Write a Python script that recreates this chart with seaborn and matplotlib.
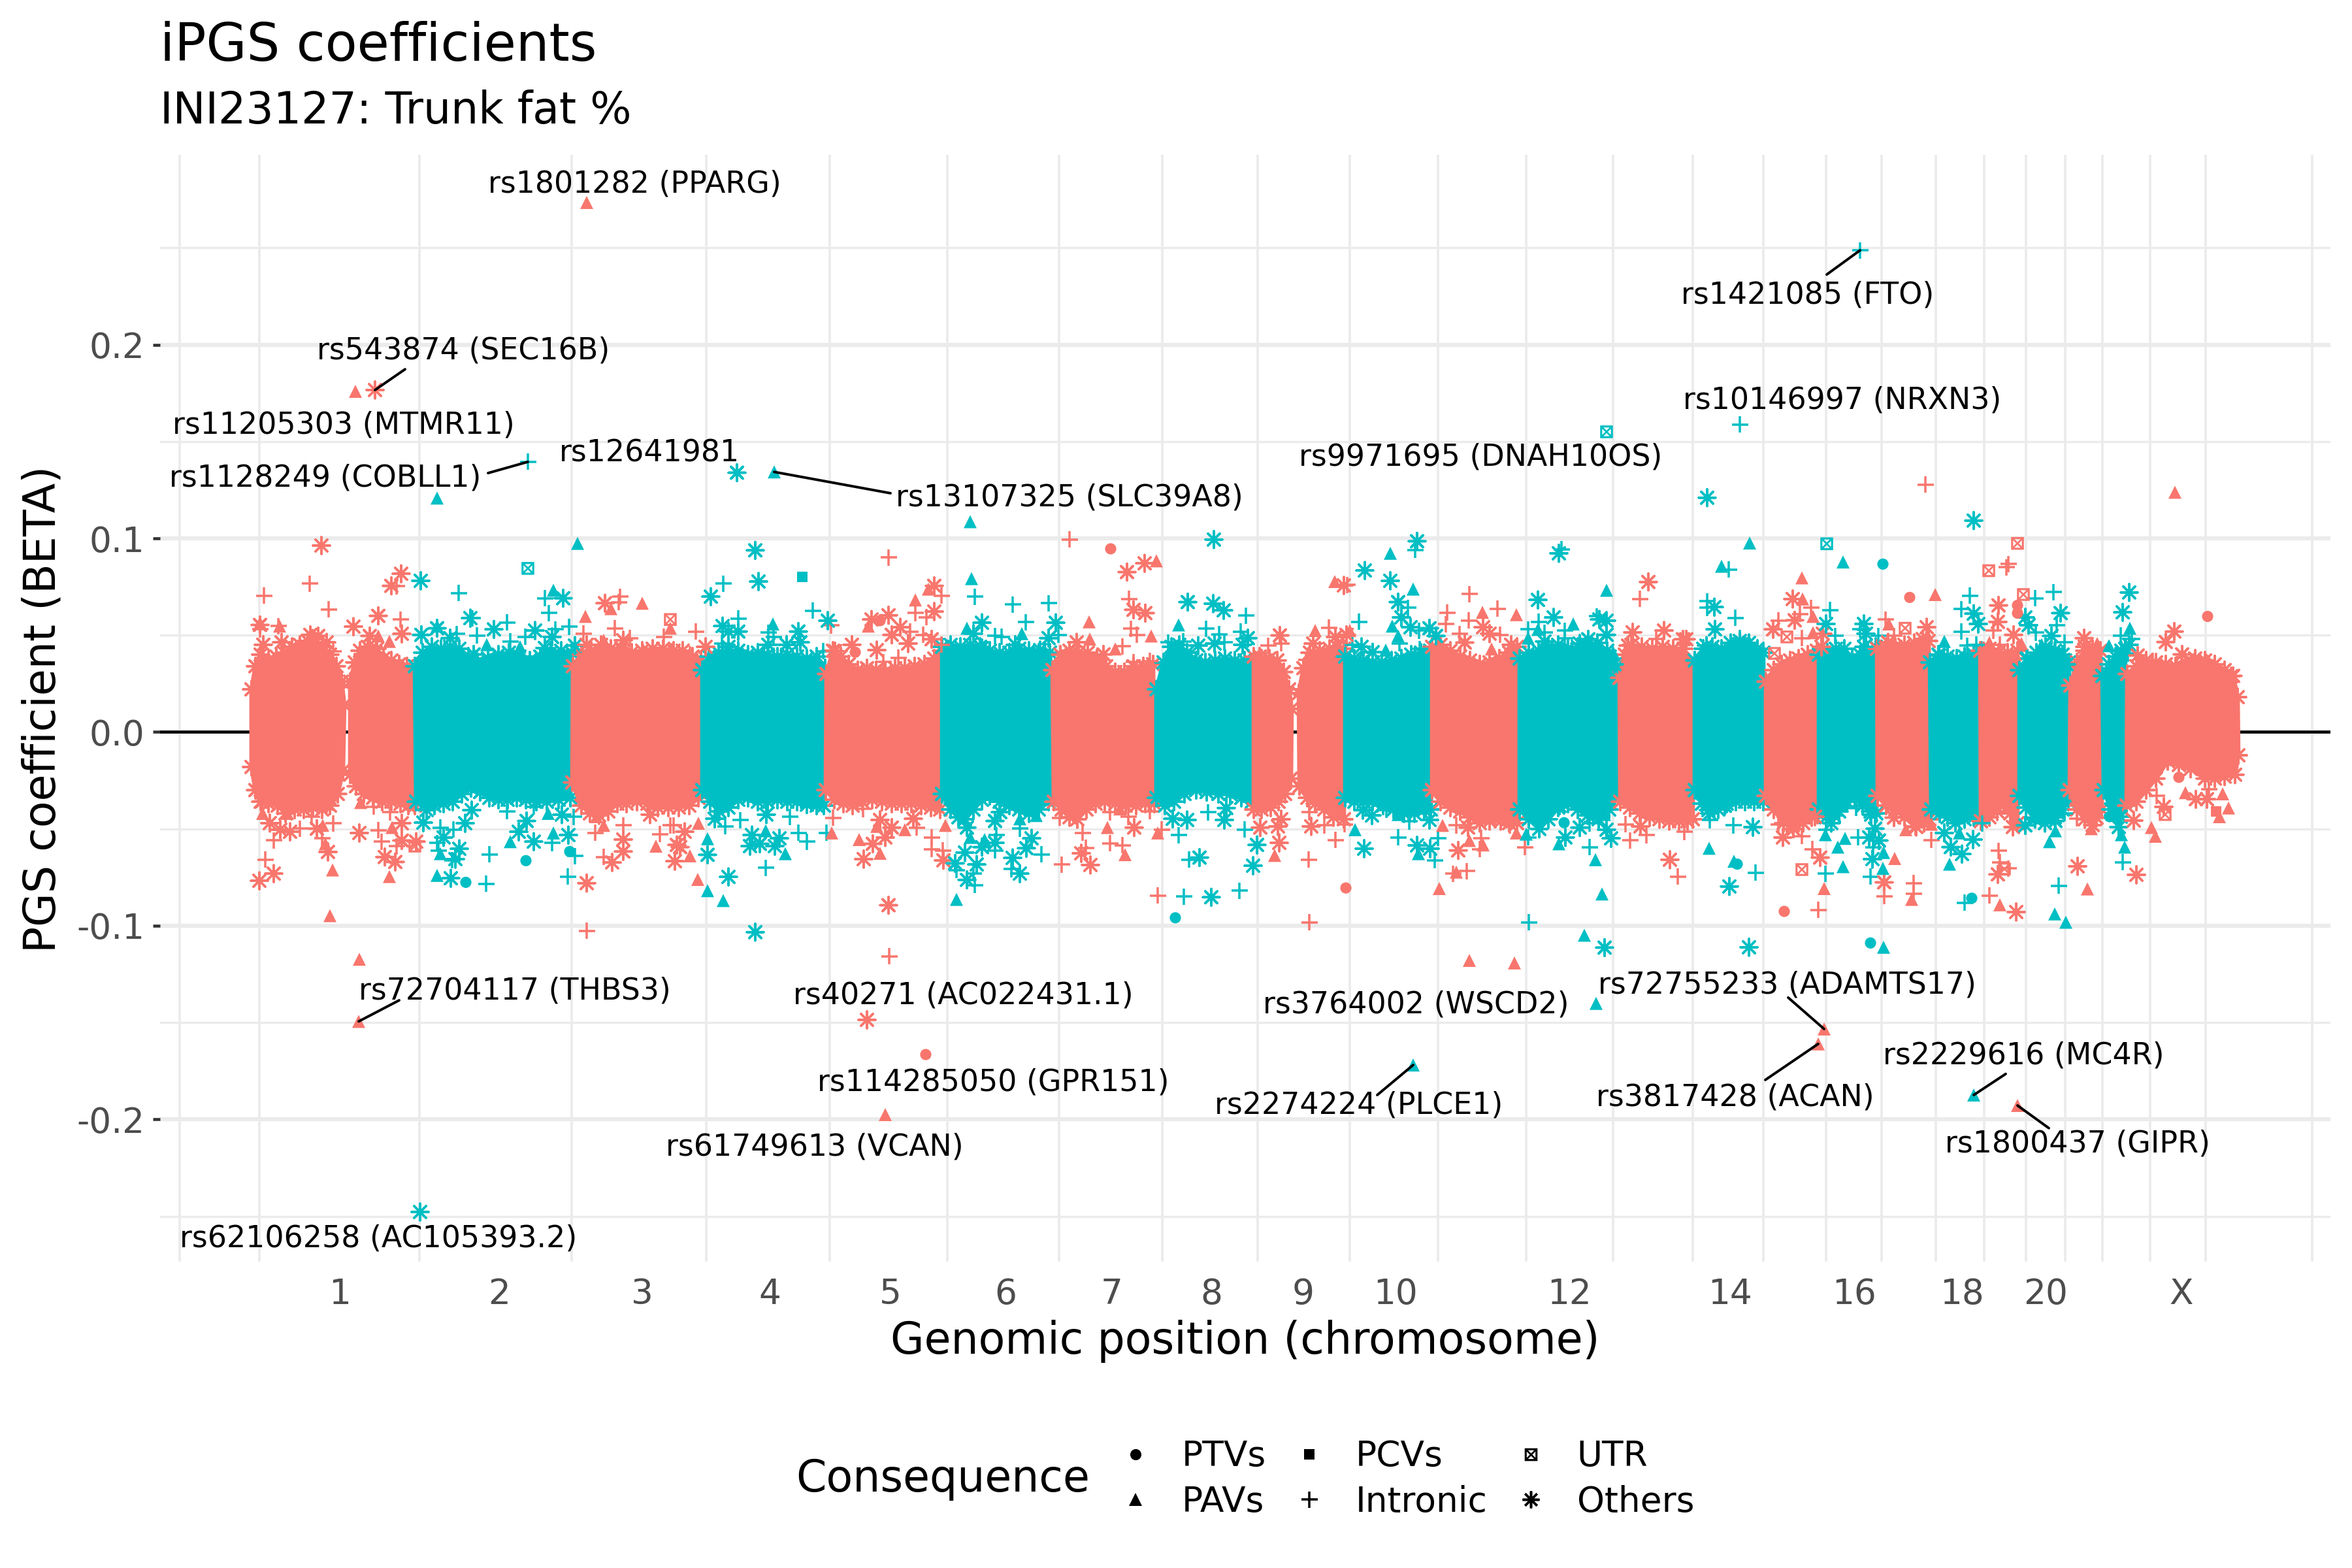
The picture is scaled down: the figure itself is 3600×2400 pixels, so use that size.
import numpy as np
import pandas as pd
import matplotlib
matplotlib.use('Agg')
import matplotlib.pyplot as plt
from matplotlib.lines import Line2D
from matplotlib.path import Path
import seaborn as sns

# all positions are cumulative genome position in Mb
tick_pos = [135, 379, 598, 793, 978, 1154, 1317, 1469, 1610, 1751, 2017, 2263, 2453, 2618, 2746, 2954]
tick_labels = ['1', '2', '3', '4', '5', '6', '7', '8', '9', '10', '12', '14', '16', '18', '20', 'X']
grid_pos = [-110, 12, 257, 490, 696, 885, 1065, 1236, 1394, 1540, 1681, 1816, 1951, 2084, 2206, 2314,
            2410, 2495, 2578, 2652, 2716, 2776, 2833, 2906, 2991, 3154]
chrom_end = [256, 500, 697, 885, 1065, 1236, 1396, 1541, 1683, 1817, 1950, 2095, 2210, 2316, 2408,
             2498.5, 2579, 2653, 2713.5, 2785, 2835, 2880, 3100]

# the ~100k variants near zero are a solid mass in the plot, so they are kept as the
# outline of that mass: one piece per chromosome arm, chromosome number first
band_chrom = [1, 1, 2, 3, 4, 5, 6, 7, 8, 9, 9, 10, 11, 12, 13, 14, 15, 16, 17, 18, 19, 20, 21, 22, 23]
band_top = [
    [(0, .022), (6, .034), (14, .040), (26, .037), (38, .039), (50, .041), (62, .044), (74, .045), (86, .047), (98, .046), (110, .044), (120, .040), (130, .034), (138, .026), (142, .014)],
    [(151, .026), (158, .036), (166, .042), (178, .044), (190, .041), (202, .038), (214, .037), (226, .035), (238, .034), (250, .034)],
    [(250, .034), (262, .041), (276, .044), (290, .043), (304, .044), (318, .043), (332, .039), (346, .036), (362, .038), (378, .040), (394, .041), (410, .039), (426, .037), (442, .039), (458, .041), (474, .042), (490, .041)],
    [(492, .034), (505, .040), (520, .042), (535, .045), (550, .043), (566, .043), (582, .041), (598, .042), (614, .043), (630, .043), (646, .042), (660, .042), (675, .039), (688, .037)],
    [(690, .032), (700, .039), (715, .041), (730, .042), (745, .042), (760, .040), (775, .041), (790, .040), (805, .039), (820, .040), (835, .039), (850, .038), (865, .039), (878, .033)],
    [(880, .030), (890, .042), (902, .039), (914, .035), (928, .032), (942, .033), (956, .032), (970, .031), (985, .033), (1000, .033), (1015, .034), (1030, .035), (1045, .038), (1056, .042)],
    [(1057, .044), (1070, .045), (1085, .044), (1100, .045), (1115, .044), (1130, .042), (1145, .041), (1160, .041), (1175, .043), (1190, .042), (1205, .041), (1222, .041)],
    [(1226, .032), (1238, .040), (1252, .042), (1266, .041), (1280, .041), (1294, .038), (1308, .034), (1322, .031), (1336, .031), (1350, .034), (1365, .034), (1380, .035)],
    [(1385, .022), (1396, .036), (1408, .044), (1420, .045), (1432, .041), (1446, .037), (1460, .036), (1475, .037), (1490, .038), (1505, .037), (1520, .037), (1532, .036)],
    [(1534, .039), (1546, .038), (1558, .038), (1570, .037), (1580, .031), (1588, .022), (1592, .012)],
    [(1603, .020), (1610, .033), (1620, .041), (1635, .042), (1650, .043), (1662, .044), (1672, .043)],
    [(1674, .039), (1688, .038), (1702, .037), (1716, .036), (1730, .036), (1745, .037), (1760, .038), (1775, .040), (1790, .041), (1804, .042)],
    [(1807, .044), (1820, .045), (1835, .042), (1850, .039), (1865, .037), (1880, .035), (1895, .036), (1910, .038), (1925, .041), (1937, .044)],
    [(1941, .038), (1955, .041), (1970, .042), (1985, .044), (2000, .045), (2015, .043), (2030, .044), (2045, .045), (2060, .046), (2075, .042), (2090, .034)],
    [(2094, .028), (2102, .040), (2112, .045), (2128, .044), (2144, .043), (2160, .044), (2176, .043), (2192, .043), (2206, .034)],
    [(2209, .037), (2222, .043), (2236, .044), (2250, .043), (2264, .046), (2278, .047), (2292, .046), (2305, .043), (2314, .041)],
    [(2318, .026), (2330, .032), (2342, .035), (2355, .037), (2368, .038), (2382, .040), (2396, .042)],
    [(2399, .040), (2412, .041), (2425, .043), (2438, .043), (2450, .038), (2462, .040), (2474, .042), (2486, .044)],
    [(2488, .043), (2502, .044), (2516, .044), (2530, .045), (2545, .046), (2558, .048), (2567, .047)],
    [(2569, .036), (2582, .040), (2596, .039), (2610, .038), (2622, .039), (2636, .040), (2648, .042)],
    [(2646, .042), (2660, .043), (2674, .041), (2688, .041), (2703, .042)],
    [(2706, .032), (2718, .038), (2732, .041), (2746, .044), (2760, .042), (2772, .040), (2782, .036)],
    [(2784, .024), (2794, .036), (2806, .042), (2818, .043), (2830, .042)],
    [(2833, .029), (2843, .035), (2853, .039), (2862, .042), (2868, .043)],
    [(2871, .030), (2885, .034), (2900, .037), (2915, .036), (2930, .035), (2945, .034), (2960, .036), (2975, .038), (2990, .037), (3005, .035), (3020, .032), (3033, .029), (3040, .018)],
]
band_bottom = [
    [(0, -.018), (6, -.030), (14, -.036), (26, -.037), (40, -.038), (52, -.042), (66, -.040), (80, -.040), (94, -.039), (108, -.040), (120, -.038), (132, -.032), (140, -.020)],
    [(151, -.022), (160, -.028), (172, -.032), (186, -.034), (200, -.036), (214, -.036), (228, -.037), (240, -.038), (250, -.038)],
    [(252, -.036), (266, -.037), (280, -.038), (294, -.037), (308, -.036), (322, -.032), (336, -.029), (350, -.031), (364, -.034), (378, -.035), (392, -.035), (406, -.034), (420, -.035), (436, -.036), (452, -.036), (470, -.035), (488, -.034)],
    [(491, -.026), (505, -.038), (518, -.042), (532, -.043), (546, -.041), (560, -.037), (574, -.037), (590, -.036), (606, -.037), (622, -.039), (638, -.039), (654, -.039), (670, -.038), (684, -.034)],
    [(690, -.030), (702, -.036), (716, -.041), (730, -.039), (745, -.035), (760, -.034), (775, -.036), (790, -.036), (805, -.035), (820, -.036), (835, -.036), (850, -.036), (865, -.038), (876, -.038)],
    [(879, -.030), (892, -.035), (906, -.037), (920, -.038), (935, -.036), (950, -.035), (965, -.036), (980, -.037), (995, -.037), (1010, -.037), (1025, -.038), (1040, -.039), (1054, -.040)],
    [(1057, -.032), (1070, -.040), (1082, -.044), (1092, -.045), (1105, -.040), (1118, -.035), (1130, -.033), (1145, -.036), (1160, -.038), (1175, -.040), (1190, -.042), (1205, -.040), (1220, -.036), (1232, -.032)],
    [(1228, -.036), (1240, -.040), (1252, -.044), (1264, -.045), (1278, -.040), (1292, -.037), (1306, -.036), (1322, -.037), (1338, -.038), (1354, -.038), (1368, -.037), (1382, -.037)],
    [(1385, -.034), (1398, -.038), (1412, -.036), (1428, -.032), (1446, -.030), (1462, -.031), (1480, -.032), (1498, -.032), (1515, -.034), (1531, -.036)],
    [(1534, -.040), (1546, -.040), (1560, -.039), (1572, -.036), (1582, -.032), (1591, -.024)],
    [(1604, -.028), (1616, -.034), (1628, -.037), (1642, -.040), (1656, -.044), (1672, -.045)],
    [(1674, -.034), (1688, -.036), (1702, -.036), (1716, -.036), (1732, -.038), (1748, -.040), (1764, -.042), (1780, -.042), (1795, -.040), (1805, -.040)],
    [(1807, -.030), (1820, -.036), (1835, -.039), (1850, -.041), (1865, -.044), (1880, -.047), (1895, -.046), (1912, -.046), (1925, -.047), (1937, -.047)],
    [(1941, -.040), (1955, -.045), (1971, -.050), (1985, -.045), (2000, -.039), (2015, -.037), (2030, -.040), (2045, -.043), (2062, -.045), (2078, -.040), (2092, -.032)],
    [(2095, -.036), (2110, -.039), (2125, -.042), (2140, -.044), (2155, -.045), (2170, -.046), (2185, -.046), (2198, -.046), (2206, -.045)],
    [(2209, -.030), (2220, -.037), (2232, -.042), (2245, -.040), (2258, -.037), (2272, -.036), (2286, -.036), (2300, -.036), (2314, -.036)],
    [(2318, -.033), (2330, -.040), (2345, -.047), (2360, -.050), (2375, -.047), (2388, -.044), (2397, -.042)],
    [(2399, -.040), (2410, -.044), (2418, -.047), (2430, -.041), (2442, -.036), (2454, -.034), (2466, -.038), (2478, -.041), (2487, -.042)],
    [(2489, -.033), (2502, -.038), (2516, -.040), (2530, -.044), (2548, -.049), (2560, -.047), (2568, -.045)],
    [(2571, -.040), (2584, -.042), (2596, -.044), (2608, -.047), (2622, -.045), (2636, -.044), (2647, -.044)],
    [(2647, -.046), (2660, -.044), (2672, -.041), (2682, -.037), (2692, -.042), (2703, -.047)],
    [(2706, -.033), (2716, -.039), (2730, -.045), (2745, -.047), (2760, -.044), (2772, -.040), (2781, -.036)],
    [(2783, -.030), (2794, -.040), (2806, -.045), (2818, -.048), (2832, -.040)],
    [(2835, -.030), (2846, -.040), (2858, -.049), (2867, -.036)],
    [(2870, -.038), (2885, -.036), (2900, -.030), (2915, -.024), (2933, -.015), (2950, -.017), (2968, -.019), (2990, -.024), (3005, -.024), (3020, -.023), (3036, -.022), (3041, -.012)],
]

ptv = [(962, .0575), (924, .0412), (1315, .0946), (2497, .0867), (2538, .0695), (2994, .0597), (2703, .0654), (2703, .0614),
       (328, -.0776), (420, -.0664), (487, -.0617), (1414, -.0959), (1675, -.0805), (2009, -.0468), (2274, -.0682),
       (2346, -.0926), (2478, -.1089), (2439, -.0375), (2633, -.0858), (2844, -.0437), (2950, -.0234), (1032, -.1665)]
pcv = [(843, .0800), (3007, -.0409)]
utr = [(423, .0845), (641, .0581), (2074, .155), (2411, .0972), (2350, .0491), (2331, .0406), (2531, .0536), (2659, .0833),
       (2703, .0974), (2712, .0710), (250, -.0589), (2373, -.0710), (2683, -.0707), (2929, -.0426)]
pav = [
    # upper half
    (513, .2734), (159, .1759), (284, .1208), (499, .0974), (800, .1343), (1100, .1086), (2944, .1238), (13, .0564), (43, .0547),
    (194, .0496), (211, .0468), (284, .0547), (462, .0732), (360, .0451), (411, .044), (511, .0597), (550, .0637), (598, .0665),
    (641, .0536), (539, .0474), (600, .0423), (643, .0429), (798, .0558), (641, .0429), (1036, .0738), (1016, .0682), (944, .0547),
    (1102, .0792), (1095, .0536), (1179, .0508), (1385, .0884), (1282, .0569), (1377, .0496), (1283, .048), (1322, .0429),
    (1419, .0553), (1658, .0777), (1628, .0524), (1681, .0524), (1743, .0923), (1778, .0738), (1746, .0547), (1755, .0496),
    (1736, .0423), (1884, .0618), (1936, .0606), (1898, .0429), (2074, .0732), (2023, .0558), (1969, .053), (1954, .0485),
    (2084, .0412), (2063, .0434), (2250, .0856), (2293, .0976), (2293, .0462), (2373, .0796), (2374, .0687), (2390, .0597),
    (2390, .0513), (2436, .0878), (2577, .0710), (2506, .0558), (2565, .0502), (2591, .0468), (2660, .0462), (2673, .0395),
    (2700, .0401), (2709, .0457), (2740, .0451), (2825, .0457), (2843, .0446), (2875, .0536), (2852, .0367), (2993, .0373), (2944, .0271),
    # lower half
    (120, -.0948), (165, -.1173), (124, -.0712), (211, -.0746), (113, -.0577), (109, -.0482), (55, -.042), (17, -.042), (215, -.0493),
    (167, -.0364), (289, -.0628), (284, -.074), (396, -.0566), (462, -.0521), (454, -.042), (619, -.0589), (528, -.0437), (539, -.0482),
    (671, -.0639), (683, -.0761), (684, -.0471), (698, -.0819), (722, -.087), (817, -.0628), (698, -.0551), (787, -.051), (888, -.0521),
    (930, -.0555), (962, -.0626), (957, -.0487), (1000, -.0504), (1062, -.0482), (1079, -.0864), (1100, -.0544), (1122, -.0555),
    (1176, -.0448), (1201, -.0431), (1337, -.0633), (1310, -.0493), (1329, -.0397), (1387, -.0521), (1566, -.0637), (1689, -.0504),
    (1786, -.0628), (1755, -.0426), (1864, -.056), (1818, -.0808), (1864, -.1179), (1933, -.1192), (1844, -.0723), (1885, -.0583),
    (1823, -.0482), (1936, -.0521), (1951, -.0527), (2040, -.1049), (2067, -.0836), (2057, -.0659), (2001, -.0577), (2071, -.0426),
    (2231, -.060), (2269, -.0667), (2407, -.0808), (2409, -.053), (2436, -.0695), (2428, -.0594), (2439, -.0549), (2498, -.0622),
    (2497, -.0704), (2498, -.1111), (2515, -.0653), (2541, -.0864), (2532, -.0504), (2571, -.0476), (2599, -.0682), (2614, -.0521),
    (2600, -.0426), (2676, -.0892), (2760, -.0939), (2777, -.0982), (2752, -.0566), (2761, -.051), (2810, -.081), (2816, -.0499),
    (2862, -.053), (2867, -.0594), (2908, -.0493), (2914, -.0538), (2960, -.0313), (3026, -.0392), (3012, -.0437), (3017, -.0319),
    # labelled
    (164, -.1494), (970, -.1975), (2058, -.1401), (1778, -.1719), (2407, -.1533), (2398, -.161), (2636, -.1874), (2703, -.1928),
]
intronic = [
    # upper half
    (19, .0704), (89, .0766), (118, .0633), (222, .0753), (228, .0581), (13, .053), (41, .0547), (125, .0418), (423, .1395), (317, .0718),
    (449, .0691), (455, .0614), (391, .0566), (465, .053), (486, .0543), (345, .0499), (314, .0507), (396, .0468), (419, .0491),
    (338, .0588), (564, .0699), (562, .0671), (508, .0508), (556, .0536), (579, .0485), (631, .0491), (680, .0519), (671, .0401),
    (722, .0766), (859, .0626), (887, .055), (745, .0586), (791, .0513), (799, .0491), (720, .0457), (875, .0418), (788, .0362),
    (975, .0901), (1056, .0704), (1016, .0614), (1033, .0592), (1008, .0519), (1028, .0502), (967, .0362), (990, .0384), (1056, .0451),
    (1107, .0699), (1165, .0659), (1220, .0665), (1185, .0567), (1138, .0496), (1148, .0491), (1235, .0502), (1252, .0994),
    (1343, .0687), (1346, .0533), (1355, .0502), (1333, .0442), (1350, .0362), (1375, .0367), (1522, .0601), (1461, .0533), (1514, .0519),
    (1481, .0505), (1403, .0462), (1426, .0468), (1489, .0463), (1576, .0457), (1556, .0446), (1677, .076), (1649, .0539), (1614, .0373),
    (1781, .094), (1770, .0642), (1695, .0569), (1787, .0524), (1685, .0451), (1757, .0457), (1788, .0429), (1864, .0713), (1907, .0637),
    (1830, .0617), (1863, .0575), (1828, .0558), (1911, .0502), (1849, .0507), (1818, .0412), (2005, .0944), (2059, .0597), (1970, .0569),
    (1979, .0513), (1954, .053), (2010, .0524), (2010, .0485), (2125, .0687), (2150, .0479), (2176, .0418), (2562, .1277), (2278, .1587),
    (2261, .0839), (2228, .0676), (2228, .0642), (2271, .059), (2278, .0485), (2387, .0642), (2370, .0609), (2337, .0575), (2373, .0485),
    (2462, .2487), (2416, .0629), (2424, .0496), (2462, .053), (2490, .0496), (2501, .0581), (2514, .0496), (2630, .0704), (2617, .0635),
    (2617, .0519), (2626, .0446), (2640, .0451), (2689, .0867), (2686, .085), (2666, .0524), (2676, .0451), (2730, .069), (2758, .0723),
    (2731, .0513), (2763, .0552), (2775, .0463), (2761, .0429), (2861, .0499), (2878, .0479), (2872, .0406), (2910, .0367), (2947, .035),
    # lower half
    (21, -.0659), (34, -.056), (74, -.0499), (92, -.0437), (125, -.0471), (108, -.0549), (194, -.0507), (199, -.0566), (222, -.0589),
    (187, -.0386), (212, -.0414), (289, -.0493), (284, -.0572), (286, -.0611), (307, -.0662), (359, -.0783), (364, -.0631), (460, -.0572),
    (495, -.0641), (484, -.0746), (309, -.0504), (432, -.0386), (391, -.0409), (493, -.0437), (513, -.1027), (539, -.0645), (625, -.0527),
    (526, -.0521), (569, -.0482), (641, -.0482), (646, -.0482), (787, -.0701), (837, -.0521), (850, -.0566), (880, -.0521), (824, -.0437),
    (748, -.0454), (725, -.0487), (890, -.0442), (976, -.1158), (1018, -.0493), (1041, -.0544), (1041, -.0605), (1058, -.0611), (936, -.0397),
    (1107, -.0791), (1079, -.0712), (1105, -.0729), (1138, -.0611), (1140, -.0532), (1163, -.0707), (1209, -.0631), (1176, -.0499),
    (1240, -.0684), (1277, -.0598), (1272, -.0521), (1237, -.0442), (1314, -.0574), (1333, -.0585), (1314, -.0414), (1342, -.0437),
    (1375, -.0409), (1393, -.0504), (1387, -.0844), (1427, -.085), (1512, -.0819), (1435, -.0659), (1520, -.0504), (1419, -.0532), (1464, -.0414),
    (1618, -.0659), (1619, -.0982), (1659, -.0557), (1642, -.0482), (1673, -.0476), (1619, -.0414), (1811, -.0662), (1755, -.0544),
    (1772, -.0462), (1737, -.0403), (1816, -.0547), (1839, -.0731), (1860, -.0718), (1880, -.0605), (1882, -.0547), (1844, -.0482), (1903, -.0442),
    (1926, -.0482), (1955, -.0982), (1949, -.0594), (1954, -.0544), (2048, -.0594), (2048, -.0471), (2110, -.056), (2135, -.0532), (2103, -.0476),
    (2183, -.0746), (2176, -.0448), (2193, -.0515), (2302, -.0726), (2268, -.0482), (2232, -.0454), (2398, -.0918), (2389, -.0605), (2373, -.0538),
    (2337, -.0476), (2409, -.0731), (2410, -.0504), (2459, -.0544), (2482, -.0594), (2478, -.0746), (2456, -.0392), (2499, -.0847), (2544, -.078),
    (2544, -.0836), (2571, -.0558), (2622, -.0881), (2649, -.0471), (2660, -.0845), (2674, -.0613), (2676, -.0673), (2689, -.0704), (2766, -.0794),
    (2775, -.042), (2794, -.0446), (2794, -.0381), (2864, -.0673), (2916, -.033), (2996, -.0296),
]
others = [
    # upper half
    (107, .0963), (229, .0817), (214, .0755), (194, .06), (156, .0544), (230, .0507), (13, .0553), (18, .0451), (46, .0463), (90, .0502),
    (102, .0496), (115, .0463), (181, .0496), (192, .043), (189, .1766), (259, .0781), (477, .0691), (335, .0588), (371, .053), (434, .0524),
    (460, .0491), (260, .0502), (284, .0536), (304, .0485), (340, .0401), (449, .0434), (495, .0446), (541, .0665), (513, .0451), (569, .0474),
    (743, .1339), (771, .0938), (776, .0777), (703, .0699), (882, .0575), (721, .0547), (745, .0519), (730, .0519), (837, .0519), (840, .0463),
    (791, .0451), (819, .0451), (730, .044), (695, .044), (1045, .0755), (1045, .0622), (975, .0603), (949, .0581), (993, .0541), (980, .0502),
    (1041, .0479), (919, .0451), (893, .0418), (1005, .0457), (957, .0423), (1231, .0564), (1118, .0564), (1105, .0508), (1220, .0485),
    (1169, .0451), (1118, .0434), (1207, .0423), (1340, .0826), (1367, .0871), (1350, .0631), (1368, .0614), (1263, .0463), (1304, .0401),
    (1473, .0994), (1433, .0671), (1472, .0663), (1488, .0628), (1525, .0485), (1449, .0446), (1474, .0457), (1517, .0451), (1438, .0373),
    (1574, .0499), (1543, .039), (1672, .0757), (1659, .0491), (1676, .0502), (1625, .0457), (1704, .0834), (1743, .0781), (1784, .0985),
    (1755, .0671), (1760, .0592), (1774, .0541), (1803, .0536), (1813, .0496), (1699, .044), (1716, .0412), (1885, .0541), (1895, .0508),
    (1857, .0462), (1928, .0451), (2001, .0923), (1969, .0682), (2063, .0581), (2074, .0575), (1993, .0592), (1979, .0468), (2033, .0457),
    (2046, .0479), (2074, .0502), (2086, .035), (2138, .0775), (2114, .0515), (2162, .0524), (2107, .0446), (2191, .0479), (2196, .0479),
    (2228, .121), (2239, .0645), (2240, .053), (2227, .0446), (2301, .0406), (2359, .0687), (2362, .0577), (2329, .053), (2405, .0508), (2403, .044),
    (2410, .0558), (2468, .0558), (2471, .0508), (2468, .044), (2564, .0541), (2505, .0463), (2636, .1092), (2636, .0611), (2643, .0558), (2583, .0395),
    (2674, .0654), (2673, .0569), (2697, .0502), (2769, .0614), (2715, .0592), (2720, .0552), (2755, .0496), (2717, .0378), (2778, .035),
    (2805, .0485), (2806, .044), (2874, .0721), (2864, .0618), (2874, .0451), (2943, .0519), (2930, .0465), (2887, .0395), (2955, .0401), (2972, .0356), (3030, .0288),
    # lower half
    (12, -.0768), (34, -.0731), (117, -.0619), (204, -.0645), (220, -.0671), (44, -.0504), (28, -.047), (59, -.0515), (100, -.0499), (16, -.0358), (115, -.0369),
    (165, -.0521), (230, -.0471), (230, -.056), (252, -.0566), (263, -.0468), (294, -.0544), (318, -.0603), (312, -.0656), (305, -.0755), (409, -.0515),
    (432, -.0566), (485, -.0532), (327, -.0471), (421, -.0459), (475, -.0426), (268, -.0403), (337, -.0403), (513, -.078), (552, -.0673), (569, -.0617),
    (569, -.0555), (648, -.0667), (651, -.0583), (610, -.0426), (656, -.0594), (663, -.0515), (730, -.0748), (698, -.0634), (771, -.1033), (763, -.0589),
    (766, -.0532), (778, -.0577), (801, -.0589), (808, -.0549), (788, -.0426), (709, -.0448), (850, -.0375), (942, -.1486), (975, -.0894), (937, -.0656),
    (951, -.0577), (970, -.0544), (980, -.0493), (962, -.0454), (1059, -.0662), (1013, -.0448), (1095, -.0763), (1077, -.0678), (1110, -.0684), (1092, -.0622),
    (1118, -.0594), (1138, -.0572), (1095, -.0493), (1165, -.065), (1176, -.0731), (1186, -.06), (1194, -.0549), (1138, -.0459), (1146, -.0414), (1270, -.0626),
    (1284, -.0686), (1351, -.0493), (1469, -.0853), (1451, -.0648), (1533, -.069), (1539, -.0583), (1432, -.0454), (1410, -.0448), (1489, -.0454), (1492, -.0392),
    (1573, -.0572), (1544, -.0493), (1571, -.0487), (1622, -.0487), (1576, -.045), (1703, -.0602), (1784, -.0585), (1804, -.0602), (1715, -.0431), (1701, -.0403),
    (1803, -.0454), (1847, -.0611), (1862, -.0493), (2071, -.1113), (2011, -.0544), (2033, -.0493), (2081, -.0549), (2074, -.0504), (2002, -.0381), (2126, -.0487),
    (2171, -.0659), (2135, -.0409), (2262, -.0797), (2292, -.1111), (2298, -.0491), (2230, -.0403), (2255, -.0381), (2401, -.0648), (2344, -.0544), (2359, -.0482),
    (2347, -.0426), (2393, -.0437), (2422, -.0431), (2476, -.0544), (2491, -.056), (2485, -.0499), (2481, -.0656), (2479, -.0426), (2499, -.0776), (2547, -.0487),
    (2514, -.0442), (2511, -.0347), (2591, -.0521), (2601, -.0594), (2618, -.063), (2635, -.0555), (2611, -.0426), (2701, -.0929), (2673, -.0735), (2696, -.049),
    (2715, -.0482), (2729, -.0442), (2761, -.0459), (2795, -.0693), (2824, -.0442), (2861, -.0437), (2885, -.0737), (2881, -.0457), (2927, -.0386), (2976, -.0347),
    (2993, -.0347),
    # labelled
    (258, -.2478),
]

label_text = ['rs1801282 (PPARG)', 'rs1421085 (FTO)', 'rs543874 (SEC16B)', 'rs11205303 (MTMR11)', 'rs1128249 (COBLL1)', 'rs12641981',
              'rs13107325 (SLC39A8)', 'rs9971695 (DNAH10OS)', 'rs10146997 (NRXN3)', 'rs72704117 (THBS3)', 'rs40271 (AC022431.1)',
              'rs114285050 (GPR151)', 'rs61749613 (VCAN)', 'rs62106258 (AC105393.2)', 'rs3764002 (WSCD2)', 'rs2274224 (PLCE1)',
              'rs72755233 (ADAMTS17)', 'rs3817428 (ACAN)', 'rs2229616 (MC4R)', 'rs1800437 (GIPR)']
label_pos = [586, 2382, 324, 141, 113, 609, 1252, 1881, 2435, 403, 1089, 1135, 862, 194, 1782, 1695, 2350, 2271, 2712, 2795]
label_beta = [.2827, .2254, .1967, .1582, .1309, .144, .1208, .1417, .1713, -.1339, -.1362, -.1811, -.2145, -.2617, -.1409,
              -.1928, -.1308, -.1889, -.1673, -.2128]
# leader lines: from the variant to the free end near its label
leader_from = [(2462, .2487), (189, .1766), (423, .1395), (800, .1343), (164, -.1494), (2398, -.161), (2407, -.1533), (2636, -.1874), (2703, -.1928), (1778, -.1719)]
leader_to = [(2411, .2362), (235, .1873), (362, .1337), (978, .1233), (226, -.1385), (2317, -.1796), (2352, -.1371), (2685, -.1765), (2751, -.2045), (1723, -.1874)]

CORAL = '#F8766D'
TEAL = '#00BFC4'


def utr_marker():
    # square frame with a cross inside, the holes are wound the other way round
    a, d = 0.68, 0.2
    verts = [(-1, -1), (1, -1), (1, 1), (-1, 1), (-1, -1)]
    codes = [Path.MOVETO, Path.LINETO, Path.LINETO, Path.LINETO, Path.CLOSEPOLY]
    holes = [[(-a + d, a), (a - d, a), (0, d)], [(a, a - d), (a, -a + d), (d, 0)],
             [(a - d, -a), (-a + d, -a), (0, -d)], [(-a, -a + d), (-a, a - d), (-d, 0)]]
    for h in holes:
        verts += h + [h[0]]
        codes += [Path.MOVETO, Path.LINETO, Path.LINETO, Path.CLOSEPOLY]
    return Path(verts, codes)


UTR_MARK = utr_marker()
STAR_MARK = (8, 2, 0)


def to_frame(pairs):
    df = pd.DataFrame(pairs, columns=['pos', 'beta'])
    chrom = np.searchsorted(chrom_end, df['pos'], side='left') + 1
    df['side'] = np.where(chrom % 2 == 1, 'odd', 'even')
    return df


sns.set_theme(style='white')
plt.rcParams['font.family'] = ['DejaVu Sans']
plt.rcParams['axes.unicode_minus'] = False
plt.rcParams['text.color'] = 'black'

fig = plt.figure(figsize=(12, 8), dpi=300)
ax = fig.add_axes([245 / 3600, 1 - 1931 / 2400, (3567 - 245) / 3600, (1931 - 237) / 2400])
ax.set_xlim(-140, 3182)
ax.set_ylim(-.2734, .298)

# theme_minimal style grid
for g in grid_pos:
    ax.axvline(g, color='#EBEBEB', lw=0.9, zorder=0)
for g in [-.25, -.15, -.05, .05, .15, .25]:
    ax.axhline(g, color='#EBEBEB', lw=0.8, zorder=0)
for g in [-.2, -.1, 0, .1, .2]:
    ax.axhline(g, color='#EBEBEB', lw=1.5, zorder=0)
ax.axhline(0, color='black', lw=1.1, zorder=1)

palette = {'odd': CORAL, 'even': TEAL}
for chrom, top, bottom in zip(band_chrom, band_top, band_bottom):
    outline = np.array(top + bottom[::-1])
    shade = CORAL if chrom % 2 == 1 else TEAL
    # the edge stroke closes the slits between neighbouring chromosomes
    ax.fill(outline[:, 0], outline[:, 1], facecolor=shade, edgecolor=shade, lw=1.6, zorder=2)
    # the rim of the mass is made of single markers, so the outline stations get one each
    rim = pd.DataFrame(outline, columns=['pos', 'beta'])
    rim['side'] = 'odd' if chrom % 2 == 1 else 'even'
    sns.scatterplot(data=rim, x='pos', y='beta', hue='side', palette=palette, marker=STAR_MARK, s=38,
                    linewidth=0.85, legend=False, ax=ax, zorder=2)

for pairs, mark, size in [(intronic, '+', 36), (others, STAR_MARK, 38)]:
    sns.scatterplot(data=to_frame(pairs), x='pos', y='beta', hue='side', palette=palette, marker=mark, s=size,
                    linewidth=0.85, legend=False, ax=ax, zorder=3)
for pairs, mark, size in [(ptv, 'o', 17), (pcv, 's', 15), (utr, UTR_MARK, 22), (pav, '^', 23)]:
    sns.scatterplot(data=to_frame(pairs), x='pos', y='beta', hue='side', palette=palette, marker=mark, s=size,
                    edgecolor='none', linewidth=0, legend=False, ax=ax, zorder=3)

for (x0, y0), (x1, y1) in zip(leader_from, leader_to):
    ax.plot([x0, x1], [y0, y1], color='black', lw=0.95, zorder=4, solid_capstyle='round')
for txt, x, y in zip(label_text, label_pos, label_beta):
    ax.text(x, y, txt, ha='center', va='center', fontsize=11, color='black', zorder=5)

sns.despine(ax=ax, left=True, bottom=True)
ax.grid(False)
ax.set_xticks(tick_pos)
ax.set_xticklabels(tick_labels)
ax.set_yticks([-.2, -.1, 0, .1, .2])
ax.set_yticklabels(['-0.2', '-0.1', '0.0', '0.1', '0.2'])
ax.tick_params(axis='x', length=0, pad=5.7, labelsize=12.8, labelcolor='#4D4D4D')
ax.tick_params(axis='y', left=True, length=2.6, width=1.1, color='#333333', pad=3, labelsize=12.8, labelcolor='#4D4D4D')
ax.set_xlabel('')
ax.set_ylabel('')

fig.text(1906 / 3600, 1 - 2053 / 2400, 'Genomic position (chromosome)', ha='center', va='center', fontsize=16)
fig.text(66 / 3600, 1 - 1085 / 2400, 'PGS coefficient (BETA)', ha='center', va='center', rotation=90, fontsize=16)
fig.text(245 / 3600, 1 - 71 / 2400, 'iPGS coefficients', ha='left', va='center', fontsize=19.2)
fig.text(245 / 3600, 1 - 170 / 2400, 'INI23127: Trunk fat %', ha='left', va='center', fontsize=16)

handles = [Line2D([], [], ls='', color='black', marker='o', ms=4.1, mew=0),
           Line2D([], [], ls='', color='black', marker='^', ms=4.8, mew=0),
           Line2D([], [], ls='', color='black', marker='s', ms=3.9, mew=0),
           Line2D([], [], ls='', color='black', marker='+', ms=6, mew=0.85),
           Line2D([], [], ls='', color='black', marker=UTR_MARK, ms=4.7, mew=0),
           Line2D([], [], ls='', color='black', marker=STAR_MARK, ms=6.2, mew=0.85)]
fig.text(1443 / 3600, 1 - 2264 / 2400, 'Consequence', ha='center', va='center', fontsize=16)
fig.legend(handles, ['PTVs', 'PAVs', 'PCVs', 'Intronic', 'UTR', 'Others'], ncol=3, frameon=False, fontsize=12.8,
           loc='center left', bbox_to_anchor=(1711 / 3600, 1 - 2264 / 2400), handlelength=1.0, handletextpad=0.83,
           columnspacing=0.74, labelspacing=0.33, borderaxespad=0, borderpad=0)

fig.savefig('out.png', dpi=300, facecolor='white')
